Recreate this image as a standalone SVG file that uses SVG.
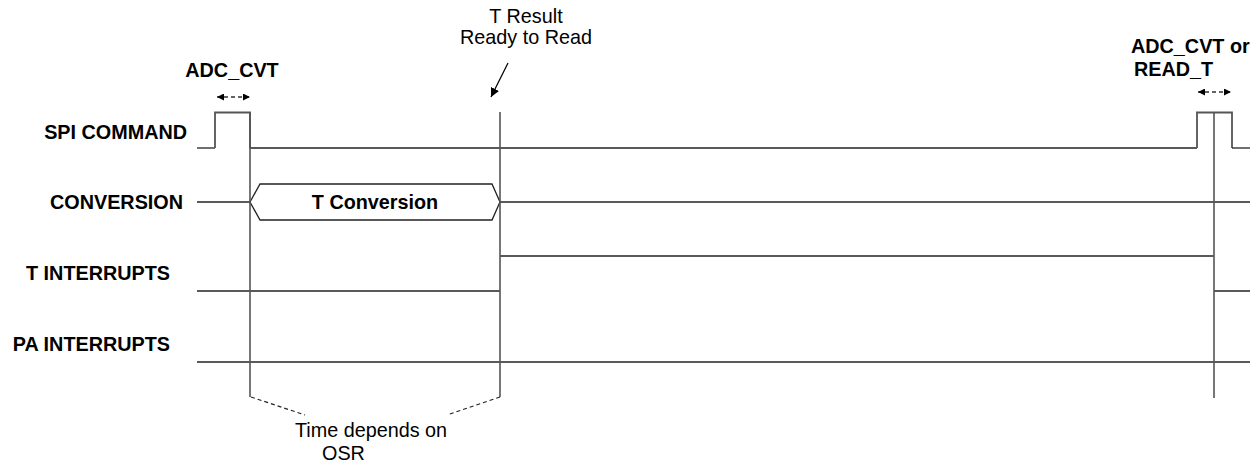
<svg xmlns="http://www.w3.org/2000/svg" width="1258" height="466" viewBox="0 0 1258 466">
<style>
.lbl{font-family:"Liberation Sans",Arial,sans-serif;font-size:19.8px;font-weight:bold;fill:#000}
.txt{font-family:"Liberation Sans",Arial,sans-serif;font-size:19.8px;fill:#000}
.sig{fill:none;stroke:#222;stroke-width:1.3}
.pulse{fill:none;stroke:#555;stroke-width:1.8}
.vert{fill:none;stroke:#555;stroke-width:1.6}
.dash{fill:none;stroke:#222;stroke-width:1.2;stroke-dasharray:4 3}
.darr{fill:none;stroke:#333;stroke-width:1.5;stroke-dasharray:4 3}
</style>
<defs>
<marker id="ah" viewBox="0 0 10 10" refX="10" refY="5" markerWidth="7" markerHeight="7" orient="auto-start-reverse" markerUnits="userSpaceOnUse">
<path d="M0,0 L10,5 L0,10 z" fill="#000"/>
</marker>
<marker id="ah2" viewBox="0 0 10 10" refX="10" refY="5" markerWidth="9" markerHeight="9" orient="auto" markerUnits="userSpaceOnUse">
<path d="M0,0 L10,5 L0,10 z" fill="#000"/>
</marker>
</defs>
<rect width="1258" height="466" fill="#fff"/>

<g id="labels">
<text class="lbl" x="187" y="139" text-anchor="end">SPI COMMAND</text>
<text class="lbl" x="183" y="209" text-anchor="end">CONVERSION</text>
<text class="lbl" x="170" y="280" text-anchor="end">T INTERRUPTS</text>
<text class="lbl" x="170" y="351" text-anchor="end">PA INTERRUPTS</text>
</g>

<g id="annot-adc">
<text class="lbl" x="232" y="77" text-anchor="middle">ADC_CVT</text>
</g>
<g id="annot-adc-right">
<text class="lbl" x="1131" y="53">ADC_CVT or</text>
<text class="lbl" x="1134" y="76">READ_T</text>
</g>
<g id="annot-result">
<text class="txt" x="526" y="23" text-anchor="middle">T Result</text>
<text class="txt" x="526" y="44" text-anchor="middle">Ready to Read</text>
</g>
<g id="annot-osr">
<text class="txt" x="371" y="437" text-anchor="middle">Time depends on</text>
<text class="txt" x="322" y="460">OSR</text>
</g>

<g id="spi-command">
<polyline class="sig" points="197,148 215,148"/>
<polyline class="pulse" points="215,148 215,112.5 250,112.5 250,148"/>
<polyline class="sig" points="250,148 1197,148"/>
<polyline class="pulse" points="1197,148 1197,112.5 1232,112.5 1232,148"/>
<polyline class="sig" points="1232,148 1250,148"/>
</g>

<g id="conversion">
<line class="sig" x1="197" y1="202" x2="250" y2="202"/>
<polygon points="250,202 260,184 492,184 500,202 492,220 260,220" fill="#fff" stroke="#222" stroke-width="1.3"/>
<text class="lbl" x="375" y="209" text-anchor="middle">T Conversion</text>
<line class="sig" x1="500" y1="202" x2="1250" y2="202"/>
</g>

<g id="t-interrupts">
<line class="sig" x1="197" y1="291" x2="500" y2="291"/>
<line class="sig" x1="500" y1="256" x2="1214" y2="256"/>
<line class="sig" x1="1214" y1="291" x2="1250" y2="291"/>
</g>

<g id="pa-interrupts">
<line class="sig" x1="197" y1="362" x2="1250" y2="362"/>
</g>

<g id="connectors">
<line class="vert" x1="250" y1="112" x2="250" y2="397"/>
<line class="vert" x1="500" y1="112" x2="500" y2="397"/>
<line class="vert" x1="1214" y1="112" x2="1214" y2="398"/>
<line class="dash" x1="251" y1="397" x2="305" y2="415"/>
<line class="dash" x1="500" y1="397" x2="447" y2="415"/>
<line class="darr" x1="217" y1="97" x2="250" y2="97" marker-start="url(#ah)" marker-end="url(#ah)"/>
<line class="darr" x1="1198" y1="92" x2="1231" y2="92" marker-start="url(#ah)" marker-end="url(#ah)"/>
<line x1="508" y1="63" x2="491" y2="97" stroke="#000" stroke-width="1.3" marker-end="url(#ah2)"/>
</g>
</svg>
